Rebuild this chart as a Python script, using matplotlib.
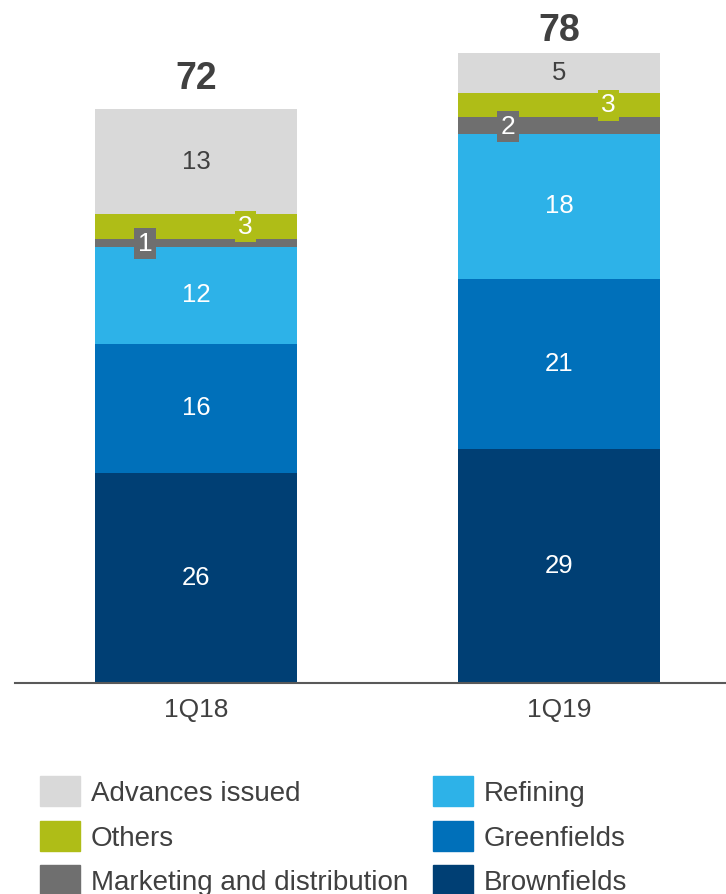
import matplotlib.pyplot as plt
from matplotlib.patches import Rectangle

plt.rcParams['font.family'] = ['Liberation Sans', 'DejaVu Sans']

# quarters and segment values (bottom to top)
quarters = ['1Q18', '1Q19']
segments = ['Brownfields', 'Greenfields', 'Refining',
            'Marketing and distribution', 'Others', 'Advances issued']
brownfields = [26, 29]
greenfields = [16, 21]
refining = [12, 18]
marketing = [1, 2]
others = [3, 3]
advances = [13, 5]
totals = [72, 78]

colors = {
    'Brownfields': '#003F74',
    'Greenfields': '#0070BA',
    'Refining': '#2DB2E8',
    'Marketing and distribution': '#6F6F6F',
    'Others': '#AFBD17',
    'Advances issued': '#D9D9D9',
}
series = [brownfields, greenfields, refining, marketing, others, advances]
txt = '#404040'

fig = plt.figure(figsize=(7.26, 8.94), dpi=100)
ax = fig.add_axes([15 / 726, 1 - 683 / 894, 711 / 726, 673 / 894])

x = list(range(len(quarters)))
bottom = [0] * len(quarters)
for name, vals in zip(segments, series):
    ax.bar(x, vals, width=0.556, bottom=bottom, color=colors[name], linewidth=0)
    for i, v in enumerate(vals):
        yc = bottom[i] + v / 2
        if name == 'Marketing and distribution':
            ax.text(x[i] - 0.14, yc - 0.15, str(v), ha='center', va='center', fontsize=19,
                    color='white',
                    bbox=dict(boxstyle='square,pad=0.13', fc=colors[name], ec='none'))
        elif name == 'Others':
            ax.text(x[i] + 0.137, yc, str(v), ha='center', va='center', fontsize=19,
                    color='white',
                    bbox=dict(boxstyle='square,pad=0.13', fc=colors[name], ec='none'))
        else:
            c = txt if name == 'Advances issued' else 'white'
            ax.text(x[i], yc, str(v), ha='center', va='center', fontsize=18.5, color=c)
    bottom = [b + v for b, v in zip(bottom, vals)]

for i, t in enumerate(totals):
    ax.annotate(str(t), (x[i], t), xytext=(0, 16), textcoords='offset points',
                ha='center', va='center', fontsize=27, fontweight='bold', color=txt)

ax.set_xlim(-0.4986, 1.46)
ax.set_ylim(0, 83.3)
for s in ['top', 'right', 'left']:
    ax.spines[s].set_visible(False)
ax.spines['bottom'].set_color('#595959')
ax.spines['bottom'].set_linewidth(1.5)
ax.set_yticks([])
ax.set_xticks(x)
ax.set_xticklabels(quarters, fontsize=19, color=txt)
ax.tick_params(axis='x', length=0, pad=11)

# legend drawn in two columns
legend_order = ['Advances issued', 'Others', 'Marketing and distribution',
                'Refining', 'Greenfields', 'Brownfields']
col_x = [40, 433]
row_y = [791, 836, 880]
for k, name in enumerate(legend_order):
    cx = col_x[k // 3]
    cy = row_y[k % 3]
    fig.patches.append(Rectangle((cx / 726, 1 - (cy + 15) / 894), 40 / 726, 30 / 894,
                                 transform=fig.transFigure, color=colors[name]))
    fig.text((cx + 51) / 726, 1 - (cy + 3) / 894, name, ha='left', va='center',
             fontsize=20, color=txt)

fig.savefig('out.png', dpi=100)
